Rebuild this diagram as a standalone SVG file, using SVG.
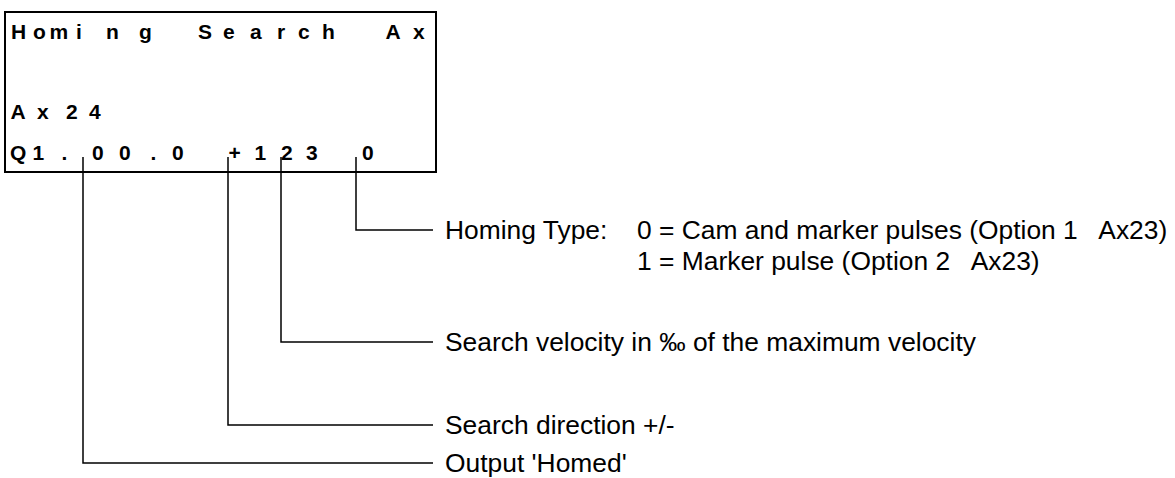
<svg xmlns="http://www.w3.org/2000/svg" width="1175" height="478" viewBox="0 0 1175 478">
<style>
.lcd{font-family:"Liberation Sans",Arial,sans-serif;font-weight:bold;font-size:21px;fill:#000}
.lbl{font-family:"Liberation Sans",Arial,sans-serif;font-size:26.4px;fill:#000}
.box{fill:#fff;stroke:#000;stroke-width:2}
.con{fill:none;stroke:#000;stroke-width:1.5}
</style>
<rect width="1175" height="478" fill="#fff"/>
<g id="display">
<rect class="box" x="5" y="12" width="431" height="160"/>
<text class="lcd" x="11 33 49.5 76 106 139 198 223 250 277 298 322 385.5 413" y="39">HomingSearchAx</text>
<text class="lcd" x="10.5 37 66 89" y="119">Ax24</text>
<text class="lcd" x="10 32.5 61.5 92 119 150.5 172 228.5 254.5 281 306 362" y="160">Q1.00.0+1230</text>
</g>
<g id="connectors">
<polyline class="con" points="356,157 356,230 433,230"/>
<polyline class="con" points="281,157 281,342 433,342"/>
<polyline class="con" points="228,157 228,425 433,425"/>
<polyline class="con" points="83,157 83,463 433,463"/>
</g>
<g id="label-homing-type">
<text class="lbl" x="445" y="239">Homing Type:</text>
<text class="lbl" x="637" y="239" xml:space="preserve">0 = Cam and marker pulses (Option 1   Ax23)</text>
<text class="lbl" x="637" y="270" xml:space="preserve">1 = Marker pulse (Option 2   Ax23)</text>
</g>
<g id="label-velocity">
<text class="lbl" x="445" y="351">Search velocity in ‰ of the maximum velocity</text>
</g>
<g id="label-direction">
<text class="lbl" x="445" y="434">Search direction +/-</text>
</g>
<g id="label-output">
<text class="lbl" x="445" y="472">Output 'Homed'</text>
</g>
</svg>
